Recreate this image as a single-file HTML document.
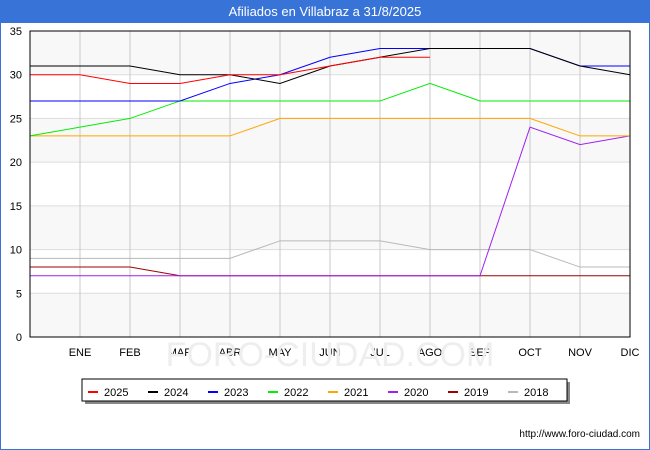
<!DOCTYPE html>
<html><head><meta charset="utf-8"><style>
body{margin:0;background:#fff;font-family:"Liberation Sans",sans-serif}
#wrap{position:relative;width:648px;height:448px;border:1px solid #3874d8;background:#fff}
#title{height:22px;background:#3874d8;color:#fff;font-size:13px;text-align:center;line-height:22px}
</style></head><body>
<div id="wrap">
<div id="title">Afiliados en Villabraz a 31/8/2025</div>
<svg id="chart" width="650" height="450" style="position:absolute;left:-1px;top:-1px"></svg>
</div>
<script>
const months=["","ENE","FEB","MAR","ABR","MAY","JUN","JUL","AGO","SEP","OCT","NOV","DIC"];
const yTicks=[0,5,10,15,20,25,30,35];
const seriesNames=["2025","2024","2023","2022","2021","2020","2019","2018"];
const seriesColors=["#ff0000","#000000","#0000ff","#00ee00","#ffa500","#a020f0","#a00000","#b8b8b8"];
const s2025=[30,30,29,29,30,30,31,32,32];
const s2024=[31,31,31,30,30,29,31,32,33,33,33,31,30];
const s2023=[27,27,27,27,29,30,32,33,33,33,33,31,31];
const s2022=[23,24,25,27,27,27,27,27,29,27,27,27,27];
const s2021=[23,23,23,23,23,25,25,25,25,25,25,23,23];
const s2020=[7,7,7,7,7,7,7,7,7,7,24,22,23];
const s2019=[8,8,8,7,7,7,7,7,7,7,7,7,7];
const s2018=[9,9,9,9,9,11,11,11,10,10,10,8,8];
const allSeries=[s2025,s2024,s2023,s2022,s2021,s2020,s2019,s2018];
const NS="http://www.w3.org/2000/svg";
const svg=document.getElementById('chart');
const X0=30,X1=630,Y0=337,Y1=31;
const xs=i=>X0+i*(X1-X0)/12;
const ys=v=>Y0-v*(Y0-Y1)/35;
function mk(t,a){const e=document.createElementNS(NS,t);for(const k in a)e.setAttribute(k,a[k]);svg.appendChild(e);return e;}
for(let k=0;k<7;k+=2){const b=mk('rect',{x:X0,y:ys(35-k*5),width:X1-X0,height:ys(0)-ys(5),fill:'#f8f8f8'});

}
yTicks.forEach(v=>{const l=mk('line',{x1:X0,x2:X1,y1:ys(v),y2:ys(v),stroke:'#dddddd'});


const t=mk('text',{x:22,y:ys(v)+4,'text-anchor':'end','font-size':11,fill:'#000'});t.textContent=v;

});
months.forEach((m,i)=>{if(i>0){const l=mk('line',{x1:xs(i),x2:xs(i),y1:Y1,y2:Y0,stroke:'#c8c8c8'});


const t=mk('text',{x:xs(i),y:356,'text-anchor':'middle','font-size':11,fill:'#000'});t.textContent=m;

}});
const wm=mk('text',{x:330,y:366,'text-anchor':'middle','font-size':34,fill:'#eeeeee'});wm.textContent="FORO-CIUDAD.COM";


for(let s=allSeries.length-1;s>=0;s--){const d=allSeries[s].map((v,i)=>(i?'L':'M')+xs(i)+','+ys(v)).join('');
const p=mk('path',{d:d,fill:'none',stroke:seriesColors[s],'stroke-width':1});

}
const fr=mk('rect',{x:X0,y:Y1,width:X1-X0,height:Y0-Y1,fill:'none',stroke:'#000'});


const sh=mk('rect',{x:85,y:382,width:485,height:22,fill:'#888'});


const lg=mk('rect',{x:82,y:379,width:485,height:22,fill:'#fff',stroke:'#000'});


seriesNames.forEach((n,i)=>{const x=88+i*60;
const l=mk('line',{x1:x,x2:x+10,y1:392,y2:392,stroke:seriesColors[i],'stroke-width':2});


const t=mk('text',{x:x+16,y:396,'font-size':11,fill:'#000'});t.textContent=n;

});
const u=mk('text',{x:640,y:437,'text-anchor':'end','font-size':10,fill:'#000'});u.textContent="http://www.foro-ciudad.com";


</script>
</body></html>
